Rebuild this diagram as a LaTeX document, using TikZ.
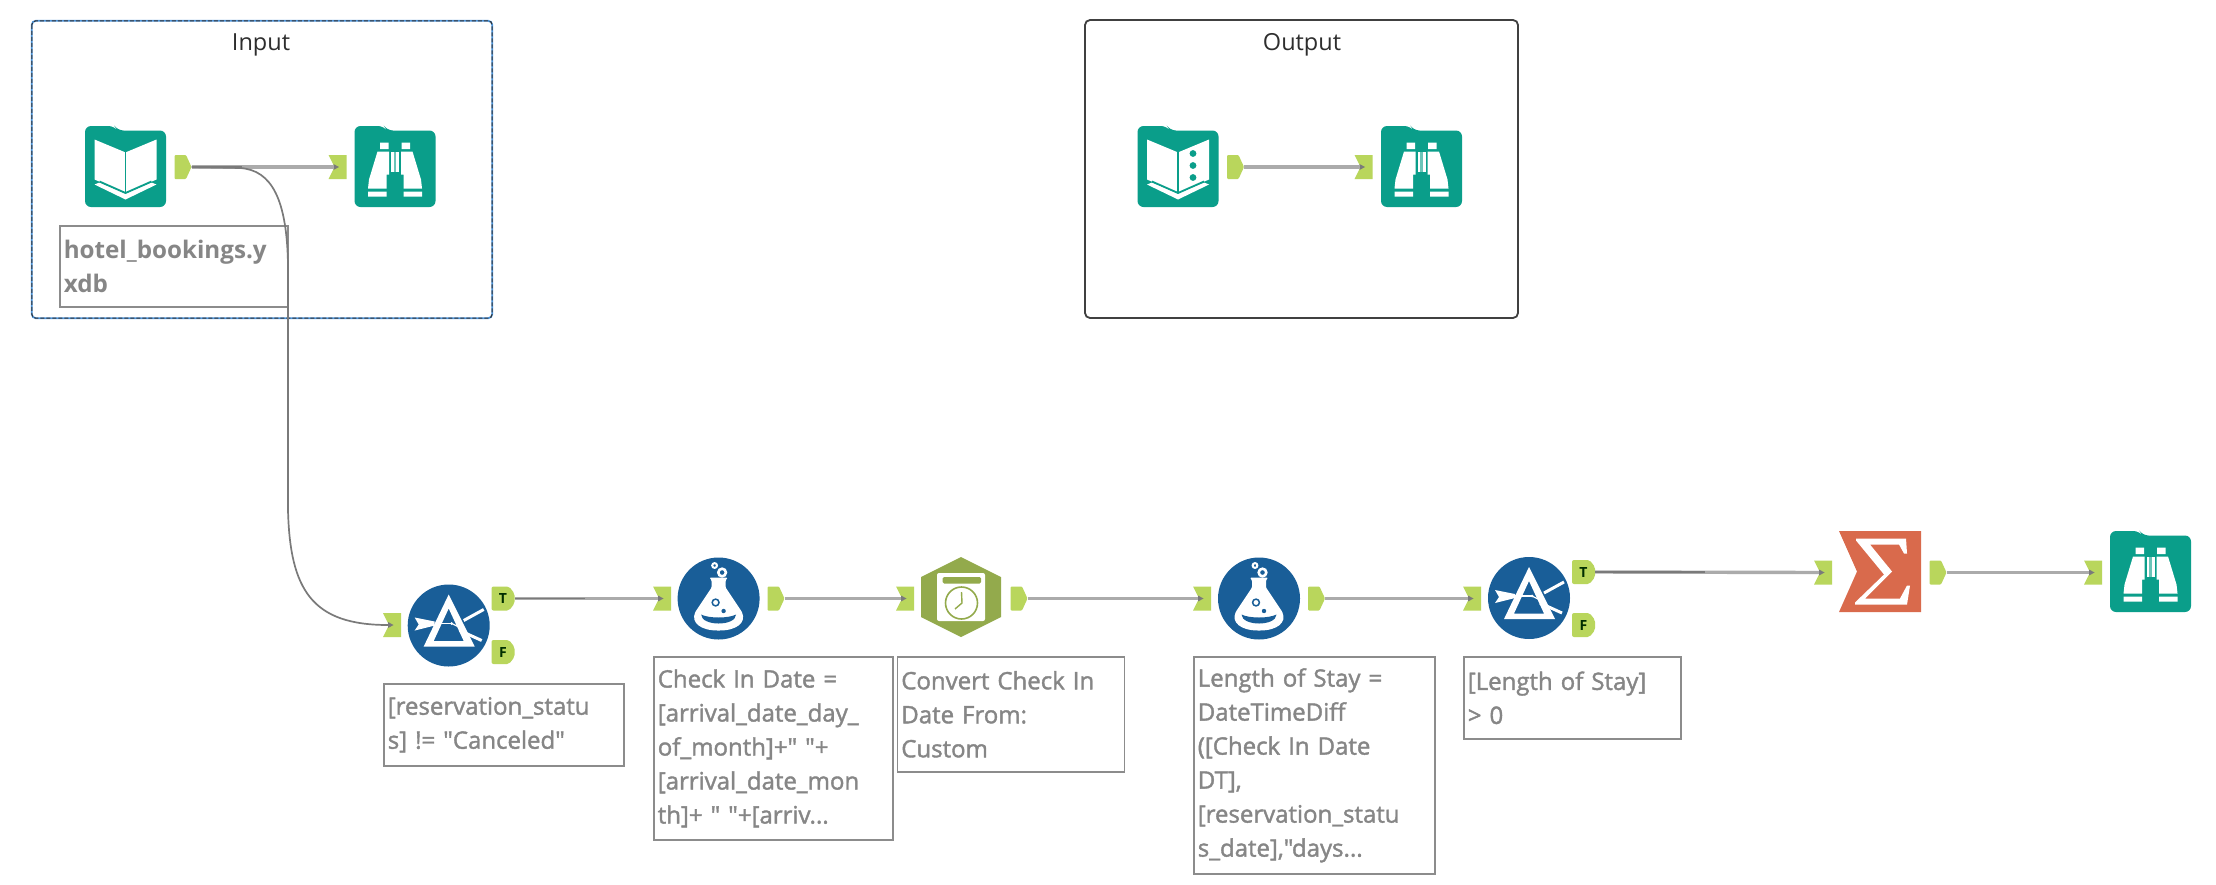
\documentclass[tikz,border=0pt]{standalone}
\usepackage{fontspec}
\setmainfont{Open Sans}
\newfontfamily\annotface[FakeBold=1.6]{Open Sans}
\newfontfamily\annotbold{Open Sans}[BoldFont={Open Sans Bold}]
\definecolor{teal1}{HTML}{0A9E8A}
\definecolor{blue1}{HTML}{195E98}
\definecolor{port1}{HTML}{B9D65C}
\definecolor{olive1}{HTML}{93AA4C}
\definecolor{sum1}{HTML}{D96A4C}
\definecolor{wire1}{HTML}{ABABAB}
\definecolor{wire2}{HTML}{7A7A7A}
\definecolor{ann1}{HTML}{868686}
\definecolor{annline}{HTML}{8C8C8C}
\tikzset{
  x=1pt,y=-1pt,
  wire/.style={draw=wire1,line width=3.4pt,shorten >=4pt},
  wirecore/.style={draw=wire2,line width=1.2pt},
  curvewire/.style={draw=wire2,line width=1.7pt,shorten >=4pt},
  annot/.style={draw=annline,line width=1.6pt,fill=white,anchor=north west,inner xsep=4pt,inner ysep=0pt,align=left,font=\fontsize{24}{34}\selectfont\annotface,text=ann1},
  grouptitle/.style={font=\fontsize{23.5}{26}\selectfont,text=black!82,inner sep=0pt},
  portnode/.style={inner sep=0pt,minimum height=24pt,minimum width=#1,draw=none},
  inport/.pic={
    \fill[port1] (-9,-12)--(9,-12)--(9,12)--(-9,12)--(-3,0)--cycle;
    \fill[wire2] (-4,-3)--(1.5,0)--(-4,3)--cycle;
    \node[portnode=18pt] (-n) at (0,0) {};
  },
  outport/.pic={
    \fill[port1,rounded corners=1pt] (-8.5,-12)--(3,-12)--(8.5,0)--(3,12)--(-8.5,12)--cycle;
    \node[portnode=17pt] (-n) at (0,0) {};
  },
  tfport/.pic={
    \fill[port1,rounded corners=2pt] (-11.5,-12)--(6,-12)--(11.5,-5)--(11.5,5)--(6,12)--(-11.5,12)--cycle;
    \node[portnode=23pt,font=\fontsize{14}{14}\selectfont\bfseries,text=black!70!green!60!black] (-n) at (0,0) {#1};
  },
  folderbg/.pic={
    \fill[teal1,rounded corners=6pt] (-40.5,40.5)--(-40.5,-40.5)--(-11,-40.5)--(-8,-36)--(40.5,-36)--(40.5,40.5)--cycle;
  },
  browseicon/.pic={
    \pic {folderbg};
    \fill[white] (-15,-24)rectangle(-6.5,-17.5) (6.5,-24)rectangle(15,-17.5);
    \fill[white] (-17.5,-15)--(-6,-15)--(-6,8)--(-8.5,8)--(-8.5,22)--(-27,22)--(-26,13)--cycle;
    \fill[white] (17.5,-15)--(6,-15)--(6,8)--(8.5,8)--(8.5,22)--(27,22)--(26,13)--cycle;
    \fill[white] (-4,-15)rectangle(4,5);
    \fill[teal1!60!white] (-1.2,-15)rectangle(1.2,5);
    \fill[white] (-27,25)rectangle(-8.5,30) (8.5,25)rectangle(27,30);
  },
  bookshape/.pic={
    \pic {folderbg};
    \fill[white] (-31,-27)--(-1,-14.5)--(1,-14.5)--(31,-27)--(31,13)--(1,26)--(-1,26)--(-31,13)--cycle;
    \fill[white] (-31,18)--(-26,16)--(0,27)--(26,16)--(31,18)--(0,33)--cycle;
    \draw[teal1,line width=1.4pt] (0,-14.5)--(0,26);
    \draw[teal1,line width=1.8pt] (-26,15)--(0,26.5)--(26,15);
  },
  inputicon/.pic={\pic {bookshape};},
  outputicon/.pic={
    \pic {bookshape};
    \fill[teal1] (15,-13) circle[radius=3.4] (15,-1) circle[radius=3.4] (15,11) circle[radius=3.4];
  },
  flaskicon/.pic={
    \fill[blue1] (0,0) circle[radius=41];
    \fill[white,rounded corners=1pt] (-9,-21)--(9,-21)--(7,-18)--(7,-11)--(23,13) .. controls (28,24) and (18,32) .. (0,32) .. controls (-18,32) and (-28,24) .. (-23,13)--(-7,-11)--(-7,-18)--cycle;
    \fill[blue1] (-17.5,16) .. controls (-10,20) and (10,20) .. (17.5,16) .. controls (17,28) and (-17,28) .. cycle;
    \draw[blue1,line width=1.5pt] (-3,4) circle[radius=3.4];
    \fill[blue1] (5,12.5) circle[radius=2.2];
    \draw[white,line width=2pt] (-4,-33) circle[radius=2.4];
    \draw[white,line width=2.6pt] (3.5,-26) circle[radius=3.8];
  },
  filtericon/.pic={
    \fill[blue1] (0,0) circle[radius=41];
    \fill[white,even odd rule] (0,-31)--(26,21)--(-25,21)--cycle (0,-17)--(15,15.5)--(-15,15.5)--cycle;
    \fill[white] (-34,-8)--(-14,-4)--(-14,0)--(-34,5)--(-30,-1)--cycle;
    \draw[white,line width=1.2pt] (-14,-2)--(3,-2);
    \draw[white,line width=1.2pt] (3,-2)--(9,1);
    \fill[white] (3,-2) circle[radius=1.5];
    \draw[white,line width=3pt] (15,-5)--(35,-16);
    \draw[white,line width=3pt] (11,5)--(33,15);
  },
  datetimeicon/.pic={
    \fill[olive1] (0,-40)--(40,-20)--(40,20)--(0,40)--(-40,20)--(-40,-20)--cycle;
    \fill[white,rounded corners=2pt] (-24,-24) rectangle (24,24);
    \fill[olive1,rounded corners=1.5pt] (-18.5,-20) rectangle (20,-13.5);
    \draw[olive1,line width=1.6pt] (0.5,6) circle[radius=16];
    \draw[olive1,line width=1.4pt] (0.5,-5)--(1,6)--(-6,12);
  },
  sumicon/.pic={
    \fill[sum1] (-41,-40.5)--(41,-40.5)--(41,40.5)--(-41,40.5)--(-23,0)--cycle;
    \fill[white] (-24,-33)--(26,-33)--(27,-18)--(24,-18)--(19,-27)--(-10,-27)--(12,0)--(-15,27)--(20,27)--(27,14)--(30,14)--(27,33)--(-25,33)--(-25,31)--(4,3)--(-24,-31)--cycle;
  }
}
\begin{document}
\begin{tikzpicture}
\useasboundingbox (0,0) rectangle (2216,884);
\fill[white] (0,0) rectangle (2216,884);
% groups
\node[draw=none,minimum width=460pt,minimum height=297pt,inner sep=0pt] (grpin) at (262,169.5) {};
\draw[draw=blue!50!cyan!80!black!70,line width=1.8pt,rounded corners=4pt] (grpin.north west) rectangle (grpin.south east);
\draw[draw=black!80,line width=1pt,dashed,dash pattern=on 4pt off 2pt,rounded corners=4pt] (grpin.north west) rectangle (grpin.south east);
\node[grouptitle] (intitle) at (261,45) {Input};
\node[draw=black!75,line width=1.8pt,rounded corners=5pt,minimum width=433pt,minimum height=298pt,inner sep=0pt] (grpout) at (1301.5,169) {};
\node[grouptitle] (outtitle) at (1302,45) {Output};
% annotations
\node[annot,minimum width=228pt,minimum height=81pt,text width=220pt,font=\fontsize{24.2}{34}\selectfont\annotbold\bfseries] (a1) at (59,225) {hotel\_bookings.y\\xdb};
\node[annot,minimum width=240pt,minimum height=82pt,text width=232pt] (a2) at (383,683) {[reservation\_statu\\s] != "Canceled"};
\node[annot,minimum width=239pt,minimum height=183pt,text width=231pt] (a3) at (653,656) {Check In Date =\\{}[arrival\_date\_day\_\\of\_month]+" "+\\{}[arrival\_date\_mon\\th]+ " "+[arriv...};
\node[annot,minimum width=227pt,minimum height=115pt,text width=219pt] (a4) at (896.5,656) {Convert Check In\\Date From:\\Custom};
\node[annot,minimum width=241pt,minimum height=217pt,text width=233pt] (a5) at (1193,656) {Length of Stay =\\DateTimeDiff\\([Check In Date\\DT],\\{}[reservation\_statu\\s\_date],"days...};
\node[annot,minimum width=217pt,minimum height=82pt,text width=209pt] (a6) at (1463,656) {[Length of Stay]\\> 0};
% tools
\pic at (125.5,166.5) {inputicon};
\pic at (395,166.5) {browseicon};
\pic at (1178,166.5) {outputicon};
\pic at (1421.5,166.5) {browseicon};
\pic at (448.7,625.5) {filtericon};
\pic at (718.6,598.5) {flaskicon};
\pic at (961,597) {datetimeicon};
\pic at (1259,598.5) {flaskicon};
\pic at (1529,598) {filtericon};
\pic at (1880,571.5) {sumicon};
\pic at (2150.5,571.5) {browseicon};
% ports
\pic (p1o) at (183,167) {outport};
\pic (p1i) at (337.5,167) {inport};
\pic (p2o) at (1235.5,167) {outport};
\pic (p2i) at (1363.5,167) {inport};
\pic (f1i) at (392,625) {inport};
\pic (f1t) at (503,598.5) {tfport=T};
\pic (f1f) at (503,652) {tfport=F};
\pic (c1i) at (662,598.5) {inport};
\pic (c1o) at (776,598.5) {outport};
\pic (d1i) at (905,598.5) {inport};
\pic (d1o) at (1019,598.5) {outport};
\pic (c2i) at (1202,598.5) {inport};
\pic (c2o) at (1316.5,598.5) {outport};
\pic (f2i) at (1472,598.5) {inport};
\pic (f2t) at (1583.5,572) {tfport=T};
\pic (f2f) at (1583.5,625) {tfport=F};
\pic (s1i) at (1823,572.5) {inport};
\pic (s1o) at (1938,572.5) {outport};
\pic (b3i) at (2093,572.5) {inport};
% connectors
\foreach \u/\v in {p1o/p1i,p2o/p2i,f1t/c1i,c1o/d1i,d1o/c2i,c2o/f2i,f2t/s1i,s1o/b3i}{
  \draw[wire] (\u-n.east) -- (\v-n.center);
}
\draw[wirecore] (p1o-n.east) -- ++(50,0);
\draw[wirecore] (f1t-n.east) -- ++(70,0);
\draw[wirecore] (f2t-n.east) -- ++(110,0);
\coordinate (bendA) at (240,168);
\coordinate (bendB) at (288,265);
\coordinate (bendC) at (288,510);
\draw[curvewire] (p1o-n.east) -- (bendA) .. controls (272,170) and (287,200) .. (bendB) -- (bendC) .. controls (290,590) and (312,625) .. (f1i-n.center);
\end{tikzpicture}
\end{document}
